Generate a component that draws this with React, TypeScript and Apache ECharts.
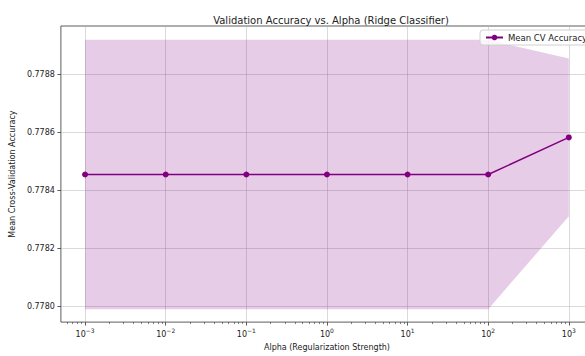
import React, { useEffect, useRef } from "react";
import * as echarts from "echarts";

const alphas = [0.001, 0.01, 0.1, 1, 10, 100, 1000];
const meanAcc = [0.778455, 0.778455, 0.778455, 0.778455, 0.778455, 0.778455, 0.778583];
const stdAcc = [0.000465, 0.000465, 0.000465, 0.000465, 0.000465, 0.000465, 0.000272];
const xTickExps = [-3, -2, -1, 0, 1, 2, 3];
const yTicks = [0.778, 0.7782, 0.7784, 0.7786, 0.7788];

export default function App() {
  const ref = useRef<HTMLDivElement>(null);
  useEffect(() => {
    if (!ref.current) return;
    const chart = echarts.init(ref.current, undefined, { renderer: "svg" });
    const xs = alphas.map((a) => Math.log10(a));
    const upper = meanAcc.map((m, i) => [xs[i], m + stdAcc[i]]);
    const lower = meanAcc.map((m, i) => [xs[i], m - stdAcc[i]]);
    const mean = meanAcc.map((m, i) => [xs[i], m]);
    const minor: number[] = [];
    for (let e = -4; e <= 3; e++) {
      for (let k = 2; k <= 9; k++) {
        const v = e + Math.log10(k);
        if (v > -3.3 && v < 3.3) minor.push(v);
      }
    }
    const font = "DejaVu Sans";
    chart.setOption({
      animation: false,
      textStyle: { fontFamily: font },
      title: {
        text: "Validation Accuracy vs. Alpha (Ridge Classifier)",
        left: 326,
        top: 10,
        textAlign: "center",
        textStyle: { fontFamily: font, fontSize: 10, fontWeight: "normal", color: "#222" },
      },
      legend: {
        data: ["Mean CV Accuracy"],
        left: 480,
        top: 30,
        padding: [3, 5],
        itemWidth: 17,
        itemHeight: 7,
        itemGap: 4,
        borderColor: "#d0d0d0",
        borderWidth: 1,
        borderRadius: 3,
        backgroundColor: "rgba(255,255,255,0.8)",
        textStyle: { fontFamily: font, fontSize: 8.5, color: "#222" },
      },
      grid: {
        left: 59,
        top: 26,
        right: 27,
        bottom: 30,
        show: true,
        borderColor: "#333",
        borderWidth: 0.8,
        backgroundColor: "transparent",
      },
      xAxis: [
        {
          type: "value",
          min: -3.3,
          max: 3.3,
          name: "Alpha (Regularization Strength)",
          nameLocation: "middle",
          nameGap: 20,
          nameTextStyle: { fontFamily: font, fontSize: 8, color: "#222" },
          axisLine: { show: false, onZero: false },
          axisTick: { show: true, customValues: xTickExps, length: 3.5, lineStyle: { color: "#333", width: 0.8 } },
          axisLabel: {
            customValues: xTickExps,
            formatter: (v: number) => "{b|10}{s|" + String(Math.round(v)).replace("-", "\u2212") + "}",
            rich: {
              b: { fontFamily: font, fontSize: 8, color: "#222", lineHeight: 11, verticalAlign: "bottom" },
              s: { fontFamily: font, fontSize: 6, color: "#222", lineHeight: 11, verticalAlign: "top" },
            },
            margin: 5,
          },
          splitLine: { show: true, lineStyle: { color: "#b0b0b0", width: 0.8, opacity: 0.6 } },
        },
        {
          type: "value",
          min: -3.3,
          max: 3.3,
          position: "bottom",
          axisLine: { show: false, onZero: false },
          axisLabel: { show: false },
          splitLine: { show: false },
          axisTick: { show: true, customValues: minor, length: 2, lineStyle: { color: "#333", width: 0.6 } },
        },
      ],
      yAxis: {
        type: "value",
        min: 0.7779455,
        max: 0.7789676,
        name: "Mean Cross-Validation Accuracy",
        nameLocation: "middle",
        nameGap: 41,
        nameTextStyle: { fontFamily: font, fontSize: 8, color: "#222" },
        axisLine: { show: false, onZero: false },
        axisTick: { show: true, customValues: yTicks, length: 3.5, lineStyle: { color: "#333", width: 0.8 } },
        axisLabel: {
          customValues: yTicks,
          formatter: (v: number) => v.toFixed(4),
          fontFamily: font,
          fontSize: 8,
          color: "#222",
          margin: 6,
        },
        splitLine: { show: true, lineStyle: { color: "#b0b0b0", width: 0.8, opacity: 0.6 } },
      },
      series: [
        {
          name: "band",
          type: "custom",
          silent: true,
          data: mean,
          encode: { x: 0, y: 1 },
          z: 1,
          renderItem: (params: any, api: any) => {
            if (params.dataIndex !== 0) return null;
            const pts = upper
              .map((p) => api.coord(p))
              .concat(lower.slice().reverse().map((p) => api.coord(p)));
            return {
              type: "polygon",
              shape: { points: pts },
              style: { fill: "#800080", opacity: 0.2 },
            };
          },
        },
        {
          name: "Mean CV Accuracy",
          type: "line",
          data: mean,
          z: 3,
          symbol: "circle",
          symbolSize: 6,
          color: "#800080",
          lineStyle: { color: "#800080", width: 1.5 },
          itemStyle: { color: "#800080" },
        },
      ],
    });
    return () => chart.dispose();
  }, []);
  return (
    <div style={{ position: "fixed", left: 0, top: 0, width: 585, height: 356, overflow: "hidden", background: "#fff" }}>
      <div ref={ref} style={{ width: 620, height: 356 }} />
    </div>
  );
}
